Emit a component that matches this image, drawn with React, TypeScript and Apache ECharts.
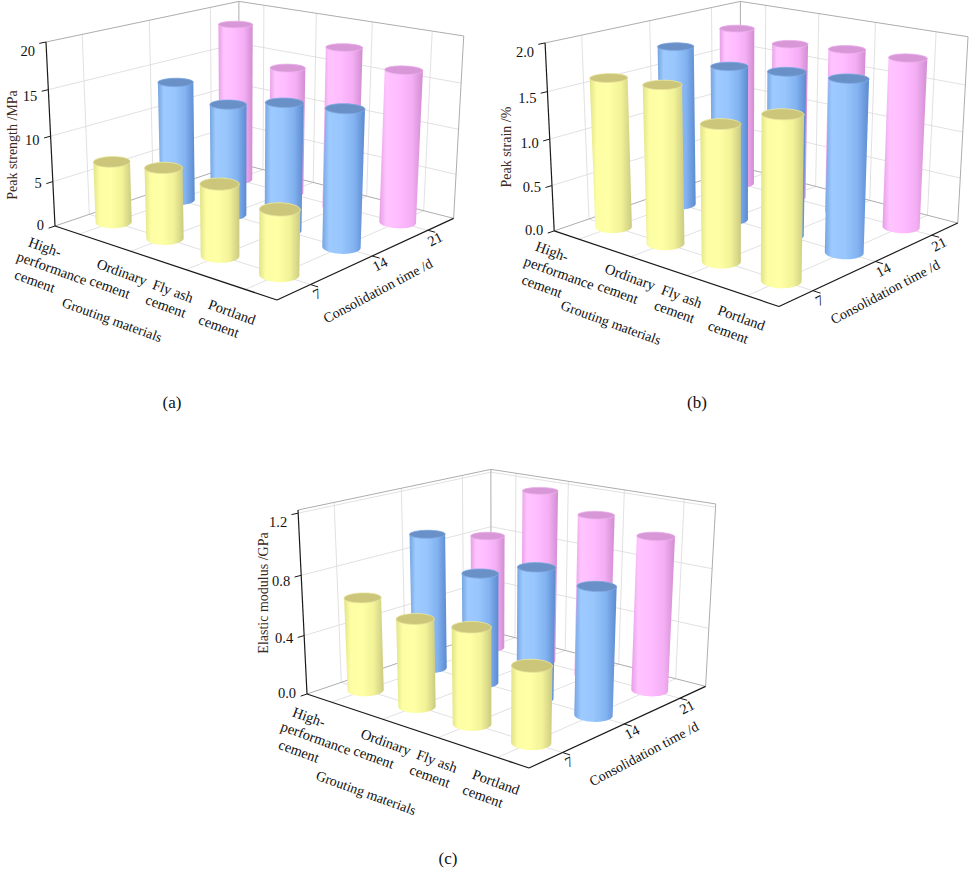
import React, { useEffect, useRef } from "react";
import * as echarts from "echarts";

// ---------------- data ----------------
const materials = ["High-\nperformance\ncement", "Ordinary\ncement", "Fly ash\ncement", "Portland\ncement"];
const times = ["7", "14", "21"];
const materialTitle = "Grouting materials";
const timeTitle = "Consolidation time /d";

const strength7 = [6.8, 7.7, 7.6, 6.7];
const strength14 = [13.6, 12.4, 13.9, 14.6];
const strength21 = [18.5, 14.6, 18.0, 16.7];

const strain7 = [1.61, 1.66, 1.4, 1.63];
const strain14 = [1.77, 1.67, 1.73, 1.78];
const strain21 = [1.81, 1.74, 1.79, 1.81];

const modulus7 = [0.63, 0.58, 0.62, 0.48];
const modulus14 = [0.94, 0.75, 0.87, 0.83];
const modulus21 = [0.82, 1.2, 1.1, 1.03];

const strengthTicks = [0, 5, 10, 15, 20];
const strainTicks = [0, 0.5, 1.0, 1.5, 2.0];
const modulusTicks = [0, 0.4, 0.8, 1.2];

// ---------------- layout / projection ----------------
const TXT = '"Liberation Serif", "Times New Roman", serif';
const BASE = 400;
const CORNER_L = [55, 226];
const CORNER_F = [277, 300];
const CORNER_B = [239, 163.5];
const CORNER_LT = [46, 42];
const DEPTH_F = 0.8638;
const DEPTH_B = 1.1465;
const DEPTH_LT = 0.954;
const RADIUS = 0.064;

function project(u: number, v: number, f: number): number[] {
  const h = (p: number[], d: number) => [p[0] * d, p[1] * d, d];
  const Lh = h(CORNER_L, 1);
  const Fh = h(CORNER_F, DEPTH_F);
  const Bh = h(CORNER_B, DEPTH_B);
  const Th = h(CORNER_LT, DEPTH_LT);
  const r = [0, 1, 2].map(
    (k) => Lh[k] + u * (Fh[k] - Lh[k]) + v * (Bh[k] - Lh[k]) + f * (Th[k] - Lh[k])
  );
  return [r[0] / r[2], r[1] / r[2]];
}
function depth(u: number, v: number) {
  return 1 + u * (DEPTH_F - 1) + v * (DEPTH_B - 1);
}

const matLinePos = [
  [[45, 247], [52, 268], [35, 281]],
  [[122, 272], [110, 287]],
  [[173, 291], [166, 306]],
  [[232, 312], [219, 326]],
];
const groutPos = [112, 320];
const timeLabelPos = [[317, 294], [380, 264], [435, 239]];
const timeTitlePos = [378, 291];

const panels = [
  {
    left: 0, top: 0, sx: 1, sy: 1, zmax: 20, ticks: strengthTicks, digits: 0,
    rows: [strength7, strength14, strength21], title: "Peak strength /MPa", titlePos: [12, 145],
    matShift: [0, 0], groutShift: [0, 0], timeTitleShift: [0, 0],
    caption: "(a)", captionPos: [172, 402],
  },
  {
    left: 498.5, top: 0, sx: 1.0125, sy: 1.0216, zmax: 2.0, ticks: strainTicks, digits: 1,
    rows: [strain7, strain14, strain21], title: "Peak strain /%", titlePos: [8, 144],
    matShift: [8, -1], groutShift: [-1, -4], timeTitleShift: [4, -5],
    caption: "(b)", captionPos: [697, 402],
  },
  {
    left: 252, top: 468, sx: 1, sy: 1, zmax: 1.22, ticks: modulusTicks, digits: 1,
    rows: [modulus7, modulus14, modulus21], title: "Elastic modulus /GPa", titlePos: [11, 125],
    matShift: [12, 2], groutShift: [2, 5], timeTitleShift: [14, -5],
    caption: "(c)", captionPos: [448, 858],
  },
];

const palette = [
  {
    body: ["#e2e288", "#fdfda4", "#ffffa6", "#f2f297", "#cbcb82"],
    top: "#cbc67a", rim: "#e8e49e",
  },
  {
    body: ["#76a4e0", "#9dcaff", "#98c6fd", "#82b2f0", "#5c8ad0"],
    top: "#6a90c8", rim: "#82aae2",
  },
  {
    body: ["#e69ee6", "#ffc4ff", "#ffbcff", "#f4aef4", "#d28cd2"],
    top: "#d898d8", rim: "#ecb2ec",
  },
];
const stopsAt = [0, 0.16, 0.45, 0.75, 1];

function hull(pts: number[][]) {
  const p = pts.slice().sort((a, b) => a[0] - b[0] || a[1] - b[1]);
  const cross = (o: number[], a: number[], b: number[]) =>
    (a[0] - o[0]) * (b[1] - o[1]) - (a[1] - o[1]) * (b[0] - o[0]);
  const lower: number[][] = [];
  const upper: number[][] = [];
  for (const q of p) {
    while (lower.length >= 2 && cross(lower[lower.length - 2], lower[lower.length - 1], q) <= 0) lower.pop();
    lower.push(q);
  }
  for (let i = p.length - 1; i >= 0; i--) {
    const q = p[i];
    while (upper.length >= 2 && cross(upper[upper.length - 2], upper[upper.length - 1], q) <= 0) upper.pop();
    upper.push(q);
  }
  upper.pop();
  lower.pop();
  return lower.concat(upper);
}

function makeFrame(k: number) {
  const P = panels[k];
  return (_params: any, api: any) => {
    const pt = (u: number, v: number, f: number) => api.coord(project(u, v, f));
    const at = (x: number, y: number) => api.coord([x, y]);
    const children: any[] = [];
    const line = (a: number[], b: number[], stroke: string, lw: number) =>
      children.push({
        type: "line",
        silent: true,
        shape: { x1: a[0], y1: a[1], x2: b[0], y2: b[1] },
        style: { stroke, lineWidth: lw },
      });
    const text = (s: string, x: number, y: number, o: any = {}) =>
      children.push({
        type: "text",
        x,
        y,
        rotation: o.rot || 0,
        silent: true,
        style: {
          text: s,
          fill: o.fill || "#111111",
          font: `${o.size || 14.5}px ${TXT}`,
          align: o.align || "center",
          verticalAlign: "middle",
        },
      });
    const grid = "#d9d9d9";
    const edge = "#adadad";
    const axis = "#1a1a1a";
    materials.forEach((_, i) => {
      const u = (i + 0.5) / 4;
      line(pt(u, 0, 0), pt(u, 1, 0), grid, 0.8);
      line(pt(u, 1, 0), pt(u, 1, 1), grid, 0.8);
    });
    times.forEach((_, j) => {
      const v = (j + 0.5) / 3;
      line(pt(0, v, 0), pt(1, v, 0), grid, 0.8);
      line(pt(0, v, 0), pt(0, v, 1), grid, 0.8);
    });
    P.ticks.forEach((t) => {
      const f = t / P.zmax;
      if (f <= 0 || f >= 0.999) return;
      line(pt(0, 0, f), pt(0, 1, f), grid, 0.8);
      line(pt(0, 1, f), pt(1, 1, f), grid, 0.8);
    });
    line(pt(0, 0, 1), pt(0, 1, 1), edge, 1);
    line(pt(0, 1, 1), pt(1, 1, 1), edge, 1);
    line(pt(0, 1, 0), pt(0, 1, 1), edge, 1);
    line(pt(1, 1, 0), pt(1, 1, 1), edge, 1);
    line(pt(0, 0, 0), pt(0, 1, 0), edge, 1);
    line(pt(0, 1, 0), pt(1, 1, 0), edge, 1);
    line(pt(0, 0, 0), pt(0, 0, 1), axis, 1.2);
    line(pt(0, 0, 0), pt(1, 0, 0), axis, 1.2);
    line(pt(1, 0, 0), pt(1, 1, 0), axis, 1.2);
    P.ticks.forEach((t) => {
      const f = t / P.zmax;
      line(pt(0, 0, f), pt(0, -0.03, f), axis, 1);
      const p = pt(0, 0, f);
      text(t.toFixed(P.digits), p[0] - 11, p[1] - 1 + 10 * f, { align: "right", size: 14.5 });
    });
    times.forEach((s, j) => {
      const v = (j + 0.5) / 3;
      line(pt(1, v, 0), pt(1.03, v, 0), axis, 1);
      const q = at(timeLabelPos[j][0], timeLabelPos[j][1]);
      text(s, q[0], q[1], { rot: (27 * Math.PI) / 180 });
    });
    materials.forEach((s, i) => {
      s.split("\n").forEach((ln, n) => {
        const b = matLinePos[i][n];
        const q = at(b[0] + P.matShift[0], b[1] + P.matShift[1]);
        text(ln, q[0], q[1], { rot: (-20 * Math.PI) / 180 });
      });
    });
    const g = at(groutPos[0] + P.groutShift[0], groutPos[1] + P.groutShift[1]);
    text(materialTitle, g[0], g[1], { rot: (-20 * Math.PI) / 180, size: 14 });
    const tt = at(timeTitlePos[0] + P.timeTitleShift[0], timeTitlePos[1] + P.timeTitleShift[1]);
    text(timeTitle, tt[0], tt[1], { rot: (28 * Math.PI) / 180, size: 14 });
    const vt = at(P.titlePos[0], P.titlePos[1]);
    text(P.title, vt[0], vt[1], { rot: Math.PI / 2, size: 14, fill: "#3d2a1e" });
    return { type: "group", children };
  };
}

function makeBars(k: number) {
  const P = panels[k];
  return (params: any, api: any) => {
    const i = api.value(0);
    const j = api.value(1);
    const val = api.value(2);
    const row = api.value(3);
    const u0 = (i + 0.5) / 4;
    const v0 = (j + 0.5) / 3;
    const f = val / P.zmax;
    const N = 72;
    const bot: number[][] = [];
    const top: number[][] = [];
    for (let n = 0; n < N; n++) {
      const a = (2 * Math.PI * n) / N;
      const uu = u0 + RADIUS * Math.cos(a);
      const vv = v0 + RADIUS * Math.sin(a);
      bot.push(api.coord(project(uu, vv, 0)));
      top.push(api.coord(project(uu, vv, f)));
    }
    const body = hull(bot.concat(top));
    const c = palette[row];
    const grad = new echarts.graphic.LinearGradient(
      0, 0, 1, 0,
      c.body.map((col, n) => ({ offset: stopsAt[n], color: col }))
    );
    return {
      type: "group",
      children: [
        { type: "polygon", shape: { points: body }, style: { fill: grad }, z2: params.dataIndex * 2 },
        {
          type: "polygon",
          shape: { points: top },
          style: { fill: c.top, stroke: c.rim, lineWidth: 0.8 },
          z2: params.dataIndex * 2 + 1,
        },
      ],
    };
  };
}

function barData(k: number) {
  const out: number[][] = [];
  panels[k].rows.forEach((arr, j) => arr.forEach((v, i) => out.push([i, j, v, j])));
  out.sort(
    (a, b) => depth((b[0] + 0.5) / 4, (b[1] + 0.5) / 3) - depth((a[0] + 0.5) / 4, (a[1] + 0.5) / 3)
  );
  return out;
}

export default function App() {
  const ref = useRef<HTMLDivElement>(null);
  useEffect(() => {
    document.body.style.margin = "0";
    const chart = echarts.init(ref.current!, undefined, { renderer: "svg" });
    const series: any[] = [];
    panels.forEach((_, k) => {
      series.push({
        type: "custom",
        xAxisIndex: k,
        yAxisIndex: k,
        data: [[0, 0]],
        renderItem: makeFrame(k),
        z: 1,
        silent: true,
      });
      series.push({
        type: "custom",
        xAxisIndex: k,
        yAxisIndex: k,
        data: barData(k),
        renderItem: makeBars(k),
        z: 2,
        silent: true,
      });
    });
    chart.setOption({
      animation: false,
      backgroundColor: "#ffffff",
      grid: panels.map((p) => ({
        left: p.left,
        top: p.top,
        width: BASE * p.sx,
        height: BASE * p.sy,
        show: false,
        containLabel: false,
        outerBoundsMode: "none",
      })),
      xAxis: panels.map((_, k) => ({ type: "value", gridIndex: k, min: 0, max: BASE, show: false })),
      yAxis: panels.map((_, k) => ({
        type: "value",
        gridIndex: k,
        min: 0,
        max: BASE,
        inverse: true,
        show: false,
      })),
      graphic: panels.map((p) => ({
        type: "text",
        x: p.captionPos[0],
        y: p.captionPos[1],
        style: {
          text: p.caption,
          font: `17px ${TXT}`,
          fill: "#111111",
          align: "center",
          verticalAlign: "middle",
          textAlign: "center",
          textVerticalAlign: "middle",
        },
      })),
      series,
    });
    return () => chart.dispose();
  }, []);
  return <div ref={ref} style={{ width: 969, height: 871, overflow: "hidden" }} />;
}
